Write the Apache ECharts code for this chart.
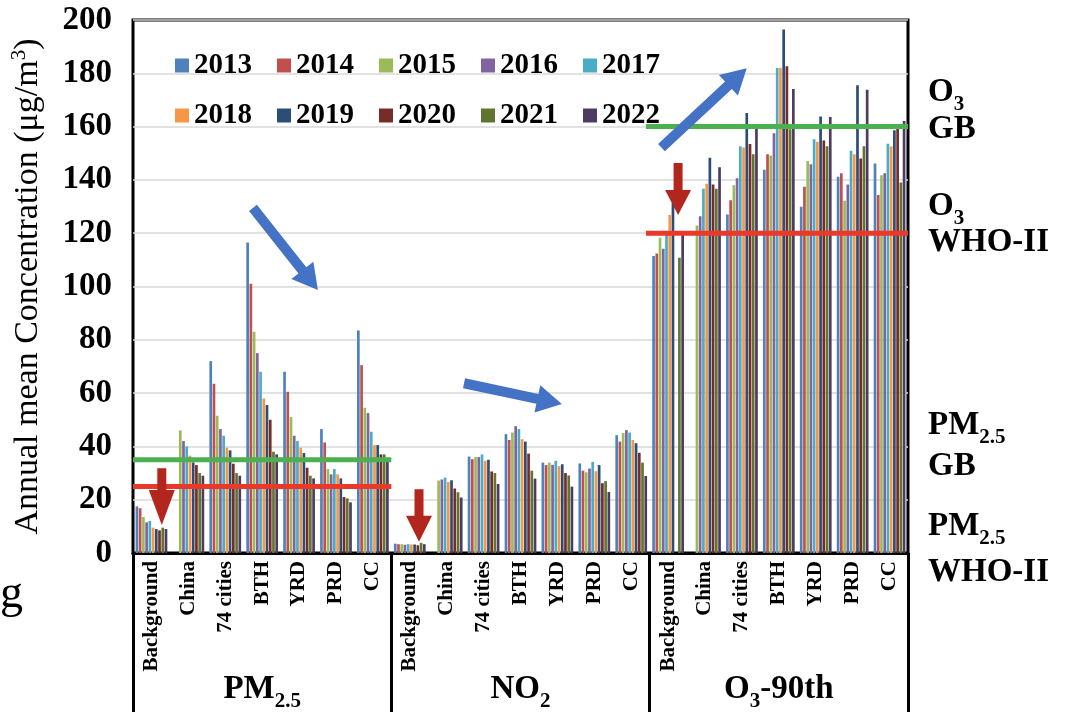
<!DOCTYPE html>
<html><head><meta charset="utf-8">
<script src="https://cdn.jsdelivr.net/npm/echarts@6/dist/echarts.min.js"></script>
<style>html,body{margin:0;padding:0;background:#fff}#c{width:1067px;height:712px}</style>
</head><body><div id="c"></div>
<script>
// ---------- DATA ----------
const sites = ['Background', 'China', '74 cities', 'BTH', 'YRD', 'PRD', 'CC'];
const pollutants = ['{b|PM}{s|2.5}', '{b|NO}{s|2}', '{b|O}{s|3}{b|-90th}'];
const years = ['2013', '2014', '2015', '2016', '2017', '2018', '2019', '2020', '2021', '2022'];
const yTicks = [0, 200, 20]; // min, max, interval

// each year: PM2.5 (7 sites), NO2 (7 sites), O3-90th (7 sites)
const v2013 = [17.5, null, 72, 116.5, 68, 46.5, 83.5,   3.5, null, 36.2, 44.6, 33.9, 33.6, 44.2,   111.4, null, 127, 143.8, 129.9, 141.2, 146.2];
const v2014 = [16.8, null, 63.5, 101, 60.5, 41.5, 70.5, 3.3, null, 35.2, 42.4, 33, 30.9, 41.8,     112.4, null, 132.4, 149.6, 137.4, 142.5, 134.3];
const v2015 = [13.5, 46, 51.5, 83, 51, 31.5, 54.5,      3.3, 27.2, 36, 45.2, 33.9, 30.3, 45,       118.3, 122.9, 138, 149.2, 147.1, 132.2, 141.7];
const v2016 = [11.5, 42, 46.5, 75, 44, 29.5, 52.5,      3.1, 27.6, 36, 47.6, 33.1, 31.7, 46.1,     114.2, 126.4, 140.6, 157.5, 145.9, 138.3, 142.5];
const v2017 = [12, 40, 44, 68, 42, 31.5, 45.5,          3.3, 28.3, 37, 46.5, 34.6, 34.2, 45.2,     120.3, 136.7, 152.6, 182, 155.3, 150.9, 153.6];
const v2018 = [9.5, 36.5, 39.5, 58, 39.5, 29.5, 40.5,   3.2, 26.6, 34.6, 42.7, 32.6, 30.7, 42.4,   126.8, 138.6, 152.2, 182, 154.3, 149.6, 152.5];
const v2019 = [9, 34, 38.5, 55.5, 37.5, 28, 40.5,       3.2, 27.3, 35, 41.8, 33.3, 33, 41.2,       131.5, 148.3, 165.1, 196.4, 163.8, 175.5, 158.6];
const v2020 = [8.5, 33, 33.5, 50, 32, 21, 37,           2.9, 24.2, 30.6, 37.3, 30, 26.2, 37.6,     null, 138.3, 153.5, 182.6, 154.8, 148, 159.7];
const v2021 = [9.5, 30, 30, 38, 29, 20.5, 37,           3.8, 22.8, 30, 30.9, 29.1, 27, 33.9,       110.8, 136.7, 149.6, 159, 152.6, 152.6, 139];
const v2022 = [9, 29, 29, 37, 28, 19, 34.5,             3.3, 20.8, 25.9, 27.9, 24.9, 22.9, 28.9,   119.5, 144.7, 159.3, 174.1, 163.6, 173.8, 162.1];
const yearValues = [v2013, v2014, v2015, v2016, v2017, v2018, v2019, v2020, v2021, v2022];

// standards (value, from category position, to category position)
const pmGB = [[0, 35], [7, 35]];
const pmWHO = [[0, 25], [7, 25]];
const o3GB = [[13.9, 160], [21, 160]];
const o3WHO = [[13.9, 120], [21, 120]];

// trend arrows in data coordinates [x1, y1, x2, y2] (x = category position)
const blueArrows = [[3.25, 129.5, 5.01, 98.7], [8.97, 63.7, 11.62, 55.9], [14.32, 152.1, 16.63, 181.9]];
const redArrows = [[0.78, 31.8, 0.78, 10.5], [7.75, 23.9, 7.75, 4.2], [14.77, 146.3, 14.77, 126.8]];

// ---------- STYLE ----------
const colors = ['#4F81BD', '#C0504D', '#9BBB59', '#8064A2', '#4BACC6', '#F79646', '#2C4D75', '#772C2A', '#5F7530', '#4D3B62'];
const serif = '"Liberation Serif", "Times New Roman", serif';
const categories = [].concat(sites, sites, sites);

const chart = echarts.init(document.getElementById('c'), null, {renderer: 'canvas'});

function arrowSeries(data, color, shaft, headW, headL) {
  return {
    type: 'custom', xAxisIndex: 1, yAxisIndex: 0, z: 10, silent: true,
    data: data,
    renderItem: function (params, api) {
      const p1 = api.coord([api.value(0), api.value(1)]);
      const p2 = api.coord([api.value(2), api.value(3)]);
      const dx = p2[0] - p1[0], dy = p2[1] - p1[1];
      const L = Math.hypot(dx, dy);
      const ux = dx / L, uy = dy / L, nx = -uy, ny = ux;
      const sw = shaft / 2, hw = headW / 2, hl = headL[params.dataIndex];
      const bx = p2[0] - ux * hl, by = p2[1] - uy * hl;
      const pts = [
        [p1[0] + nx * sw, p1[1] + ny * sw], [bx + nx * sw, by + ny * sw], [bx + nx * hw, by + ny * hw],
        [p2[0], p2[1]], [bx - nx * hw, by - ny * hw], [bx - nx * sw, by - ny * sw], [p1[0] - nx * sw, p1[1] - ny * sw]
      ];
      return {type: 'polygon', shape: {points: pts}, style: {fill: color}};
    }
  };
}

function stdLine(data, color) {
  return {type: 'line', xAxisIndex: 1, yAxisIndex: 0, data: data, symbol: 'none', silent: true, z: 8,
    lineStyle: {color: color, width: 5}};
}

const barSeries = years.map((y, i) => ({
  name: y, type: 'bar', data: yearValues[i], xAxisIndex: 0, yAxisIndex: 0,
  barGap: '20%', barCategoryGap: '14%', itemStyle: {color: colors[i]}
}));

const bigRich = {
  b: {fontSize: 33, fontWeight: 'bold', fontFamily: serif, color: '#000', lineHeight: 36, verticalAlign: 'top'},
  s: {fontSize: 21, fontWeight: 'bold', fontFamily: serif, color: '#000', lineHeight: 20, padding: [18, 0, 0, 0], verticalAlign: 'top'}
};

function sideLabel(text, capCenterY) {
  return {type: 'text', left: 928, top: capCenterY - 18, silent: true,
    style: {text: text, rich: bigRich, fill: '#000'}};
}

const option = {
  backgroundColor: '#fff',
  animation: false,
  color: colors,
  grid: {left: 133, right: 159, top: 20, bottom: 159, show: true, borderColor: '#000', borderWidth: 3, containLabel: false},
  legend: [
    {data: years.slice(0, 5), left: 170, top: 46, itemWidth: 14, itemHeight: 14, itemGap: 25, icon: 'rect',
      textStyle: {fontSize: 29, fontWeight: 'bold', fontFamily: serif, color: '#000'}},
    {data: years.slice(5), left: 170, top: 96, itemWidth: 14, itemHeight: 14, itemGap: 25, icon: 'rect',
      textStyle: {fontSize: 29, fontWeight: 'bold', fontFamily: serif, color: '#000'}}
  ],
  xAxis: [
    {type: 'category', data: categories, position: 'bottom', gridIndex: 0,
      axisLine: {show: true, lineStyle: {color: '#000', width: 3}},
      axisTick: {show: false},
      axisLabel: {interval: 0, rotate: 90, margin: 8, fontSize: 21, fontWeight: 'bold', fontFamily: serif, color: '#000'}},
    {type: 'value', min: 0, max: 21, show: false, position: 'top', gridIndex: 0},
    {type: 'category', data: pollutants, position: 'bottom', gridIndex: 0,
      axisLine: {show: false},
      axisTick: {show: true, interval: 0, length: 160, lineStyle: {color: '#000', width: 3}},
      axisLabel: {interval: 0, margin: 120, rich: bigRich, color: '#000'}}
  ],
  yAxis: [{
    type: 'value', min: yTicks[0], max: yTicks[1], interval: yTicks[2],
    axisLine: {show: false}, axisTick: {show: false},
    splitLine: {show: true, lineStyle: {color: '#d9d9d9', width: 1.5}},
    axisLabel: {margin: 21, fontSize: 33, fontWeight: 'bold', fontFamily: serif, color: '#000'},
    name: 'Annual mean Concentration (μg/m{sup|3})', nameLocation: 'middle', nameGap: 86,
    nameTextStyle: {fontSize: 34, fontFamily: serif, color: '#000', lineHeight: 38,
      rich: {sup: {fontSize: 21, fontFamily: serif, color: '#000', lineHeight: 21, verticalAlign: 'top'}}}
  }],
  series: barSeries.concat([
    stdLine(pmGB, '#4CAF50'), stdLine(pmWHO, '#E8392A'),
    stdLine(o3GB, '#4CAF50'), stdLine(o3WHO, '#E8392A'),
    arrowSeries(blueArrows, '#4472C4', 10, 28, [25, 25, 25]),
    arrowSeries(redArrows, '#B3261E', 9, 26, [35, 26, 25])
  ]),
  graphic: [
    sideLabel('{b|O}{s|3}', 94), sideLabel('{b|GB}', 131),
    sideLabel('{b|O}{s|3}', 208), sideLabel('{b|WHO-II}', 244),
    sideLabel('{b|PM}{s|2.5}', 427), sideLabel('{b|GB}', 468),
    sideLabel('{b|PM}{s|2.5}', 528), sideLabel('{b|WHO-II}', 574),
    {type: 'text', left: 0, top: 572, silent: true, style: {text: 'g', fontSize: 46, fontFamily: serif, fill: '#000'}}
  ]
};
chart.setOption(option);
</script></body></html>
